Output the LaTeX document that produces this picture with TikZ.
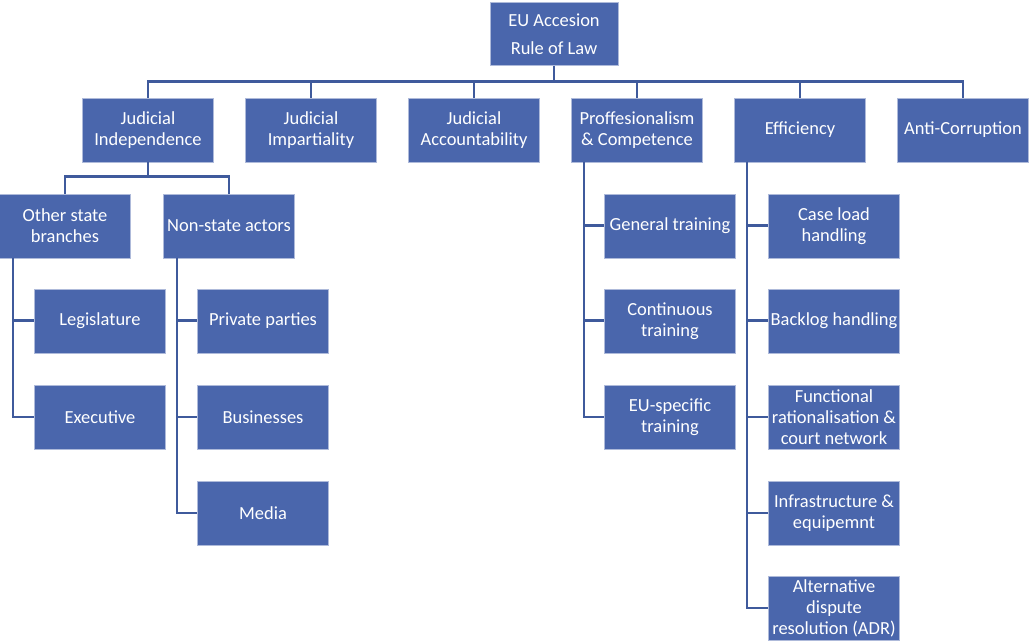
\documentclass[tikz,border=0pt]{standalone}
\usepackage{fontspec}
\setmainfont{Carlito}
\usetikzlibrary{calc}

\definecolor{boxblue}{HTML}{4A66AC}
\definecolor{linkblue}{HTML}{3F5A9C}

\tikzset{
  box/.style={fill=boxblue, draw=white!55!boxblue, line width=0.4pt, text=white,
    minimum width=2.63cm, minimum height=1.28cm, align=center, inner sep=1pt,
    font=\fontsize{10.5}{12}\selectfont},
  link/.style={draw=linkblue, line width=1.7pt}
}

\begin{document}
\begin{tikzpicture}[x=0.02cm,y=-0.02cm]
                \useasboundingbox (0,0) rectangle (1029,644);
                % top level
                \node[box, minimum width=2.56cm, minimum height=1.26cm, font=\fontsize{10.5}{16}\selectfont] (root) at (554,34) {EU Accesion\\Rule of Law};
                \node[box] (jind) at (148,130) {Judicial\\Independence};
                \node[box] (jimp) at (311,130) {Judicial\\Impartiality};
                \node[box] (jacc) at (474,130) {Judicial\\Accountability};
                \node[box] (prof) at (637,130) {Proffesionalism\\\& Competence};
                \node[box] (eff) at (800,130) {Efficiency};
                \node[box] (anti) at (963,130) {Anti-Corruption};
                % independence
                \node[box] (osb) at (65,226) {Other state\\branches};
                \node[box] (nsa) at (229,226) {Non-state actors};
                \node[box] (leg) at (100,321) {Legislature};
                \node[box] (exe) at (100,417) {Executive};
                \node[box] (pp) at (263,321) {Private parties};
                \node[box] (bus) at (263,417) {Businesses};
                \node[box] (med) at (263,513) {Media};
                % competence
                \node[box] (gt) at (670,226) {General training};
                \node[box] (ct) at (670,321) {Continuous\\training};
                \node[box] (eus) at (670,417) {EU-specific\\training};
                % efficiency
                \node[box] (cl) at (834,226) {Case load\\handling};
                \node[box] (bl) at (834,321) {Backlog handling};
                \node[box] (fr) at (834,417) {Functional\\rationalisation \&\\court network};
                \node[box] (ie) at (834,513) {Infrastructure \&\\equipemnt};
                \node[box] (adr) at (834,608) {Alternative\\dispute\\resolution (ADR)};
                % connectors
                \coordinate (rootbus) at (554,82);
                \coordinate (jindbus) at (148,177);
                \coordinate (osbT) at (13,258);
                \coordinate (nsaT) at (177,258);
                \coordinate (profT) at (584,162);
                \coordinate (effT) at (747,162);
                \draw[link] (root.south) -- (rootbus);
                \foreach \n in {jind,jimp,jacc,prof,eff,anti}
                    \draw[link] (rootbus) -| (\n.north);
                \draw[link] (jind.south) -- (jindbus);
                \draw[link] (jindbus) -| (osb.north);
                \draw[link] (jindbus) -| (nsa.north);
                \foreach \n in {leg,exe}
                    \draw[link] (osbT) |- (\n.west);
                \foreach \n in {pp,bus,med}
                    \draw[link] (nsaT) |- (\n.west);
                \foreach \n in {gt,ct,eus}
                    \draw[link] (profT) |- (\n.west);
                \foreach \n in {cl,bl,fr,ie,adr}
                    \draw[link] (effT) |- (\n.west);
\end{tikzpicture}
\end{document}
